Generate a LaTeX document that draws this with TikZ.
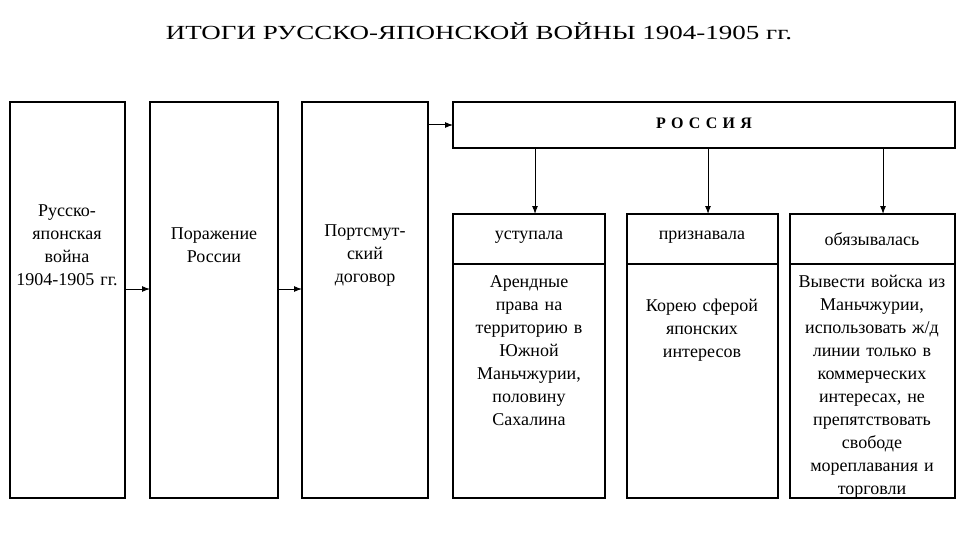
\documentclass[tikz,border=0pt]{standalone}
\usepackage{fontspec}
\setmainfont{Liberation Serif}
\usetikzlibrary{arrows.meta}
\begin{document}
\begin{tikzpicture}[x=1pt,y=-1pt,
  bx/.style={draw,line width=1.6pt,inner sep=0pt},
  txt/.style={font=\fontsize{18}{23}\selectfont,align=center,text width=#1},
  arr/.style={-{Latex[length=8pt,width=6pt]},line width=1pt}]
\useasboundingbox (0,0) rectangle (960,540);
\node[font=\fontsize{20}{24}\selectfont,xscale=1.35] (title) at (479,31) {ИТОГИ РУССКО-ЯПОНСКОЙ ВОЙНЫ 1904-1905 гг.};
% left boxes
\draw[bx] (10,102) rectangle (125,498);
\node[txt=114pt] (b1) at (67,245) {Русско-\\японская\\война\\1904-1905 гг.};
\draw[bx] (150,102) rectangle (278,498);
\node[txt=125pt] (b2) at (214,245) {Поражение\\России};
\draw[bx] (302,102) rectangle (428,498);
\node[txt=122pt] (b3) at (365,256) {Портсмут-\\ский\\договор};
\coordinate (a1s) at (125,289); \coordinate (a1e) at (150,289);
\coordinate (a2s) at (278,289); \coordinate (a2e) at (302,289);
\coordinate (a3s) at (428,125); \coordinate (a3e) at (453,125);
\draw[arr] (a1s) -- (a1e);
\draw[arr] (a2s) -- (a2e);
\draw[arr] (a3s) -- (a3e);
% Russia
\draw[bx] (453,102) rectangle (955,148);
\node[font=\bfseries\fontsize{16}{20}\selectfont] (ru) at (704,123) {Р\,\,О\,\,С\,\,С\,\,И\,\,Я};
% columns
\foreach \l/\r/\c in {453/605/535,627/778/708,790/955/883}{
  \draw[bx] (\l,214) rectangle (\r,498);
  \draw[bx] (\l,264) -- (\r,264);
  \coordinate (s\c) at (\c,148); \coordinate (e\c) at (\c,214);
  \draw[arr] (s\c) -- (e\c);
}
\node[txt=150pt] (h1) at (529,237) {уступала};
\node[txt=150pt] (h2) at (702,237) {признавала};
\node[txt=162pt] (h3) at (872,239) {обязывалась};
\node[txt=150pt,anchor=north] (t1) at (529,272) {Арендные\\права на\\территорию в\\Южной\\Маньчжурии,\\половину\\Сахалина};
\node[txt=150pt,anchor=north] (t2) at (702,295) {Корею сферой\\японских\\интересов};
\node[txt=164pt,anchor=north] (t3) at (872,272) {Вывести войска из\\Маньчжурии,\\использовать ж/д\\линии только в\\коммерческих\\интересах, не\\препятствовать\\свободе\\мореплавания и\\торговли};
\end{tikzpicture}
\end{document}
